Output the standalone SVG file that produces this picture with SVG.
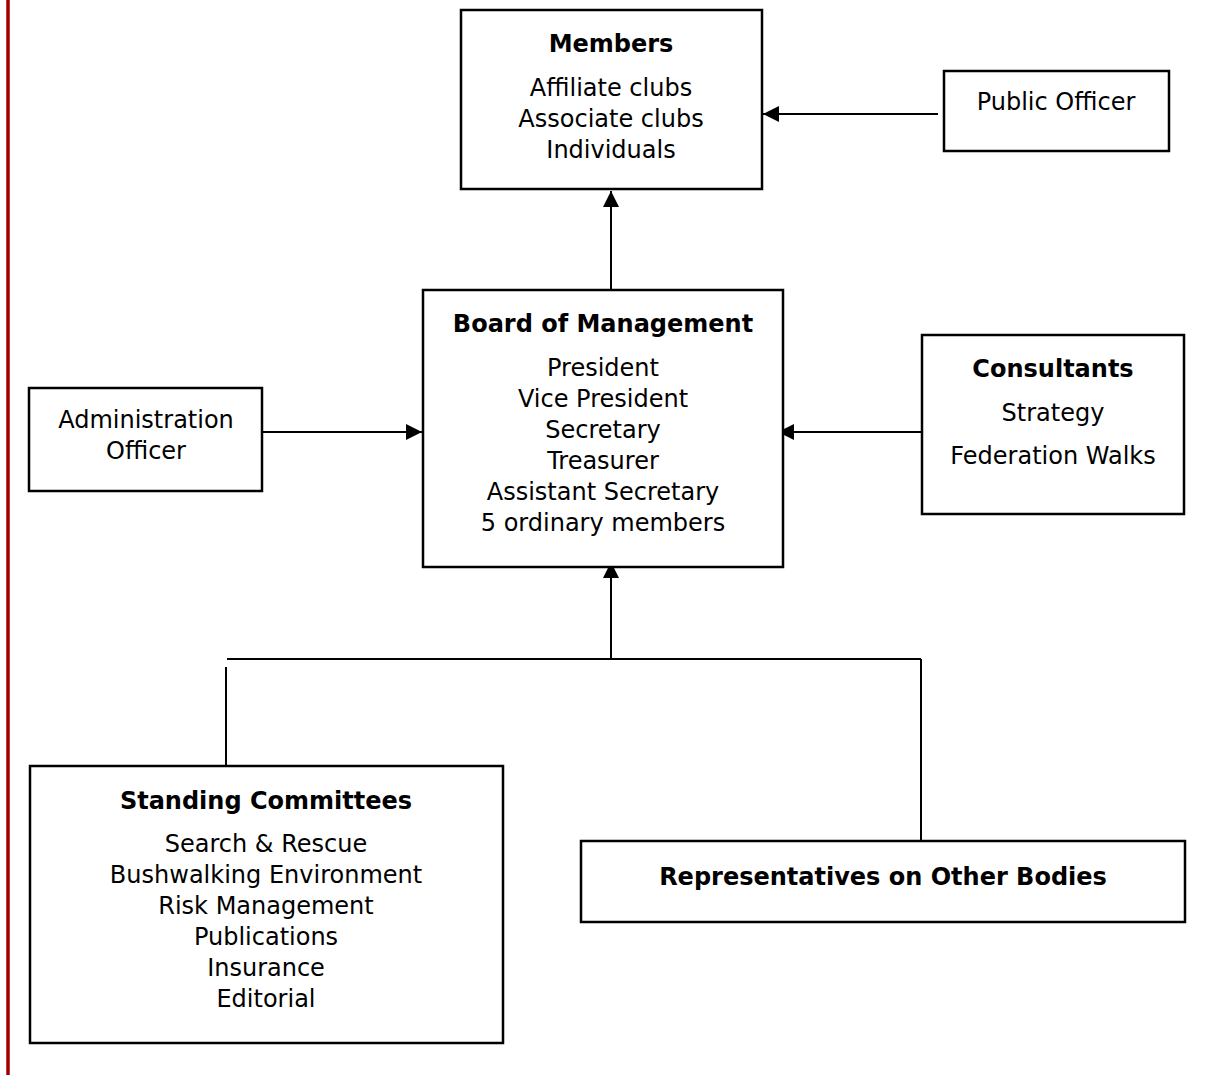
<svg xmlns="http://www.w3.org/2000/svg" width="1212" height="1075" viewBox="0 0 1212 1075">
<style>
.box{fill:#fff;stroke:#000;stroke-width:2.5}
.ln{stroke:#000;stroke-width:2;fill:none}
.t{font-family:"DejaVu Sans","Liberation Sans",sans-serif;font-size:24px;fill:#000;text-anchor:middle}
.h{font-weight:bold;font-size:24px}
</style>
<defs>
<marker id="ah" viewBox="0 0 16 16" refX="16" refY="8" markerWidth="16" markerHeight="16" markerUnits="userSpaceOnUse" orient="auto">
<path d="M0,0 L16,8 L0,16 Z" fill="#000"/>
</marker>
</defs>
<rect width="1212" height="1075" fill="#fff"/>
<line x1="8" y1="0" x2="8" y2="1075" stroke="#a00000" stroke-width="3.5"/>
<g id="connectors">
<line class="ln" x1="938" y1="114" x2="763" y2="114" marker-end="url(#ah)"/>
<line class="ln" x1="611" y1="290" x2="611" y2="191" marker-end="url(#ah)"/>
<line class="ln" x1="263" y1="432" x2="422" y2="432" marker-end="url(#ah)"/>
<line class="ln" x1="922" y1="432" x2="778" y2="432" marker-end="url(#ah)"/>
<line class="ln" x1="611" y1="659" x2="611" y2="562" marker-end="url(#ah)"/>
<line class="ln" x1="227" y1="659" x2="921" y2="659" stroke-width="2.5"/>
<line class="ln" x1="226" y1="667" x2="226" y2="766"/>
<line class="ln" x1="921" y1="659" x2="921" y2="841"/>
</g>
<g id="members">
<rect class="box" x="461" y="10" width="301" height="179"/>
<text class="t h" x="611" y="52">Members</text>
<text class="t" x="611" y="96">Affiliate clubs</text>
<text class="t" x="611" y="127">Associate clubs</text>
<text class="t" x="611" y="158">Individuals</text>
</g>
<g id="public-officer">
<rect class="box" x="944" y="71" width="225" height="80"/>
<text class="t" x="1056" y="110">Public Officer</text>
</g>
<g id="board">
<rect class="box" x="423" y="290" width="360" height="277"/>
<text class="t h" x="603" y="332">Board of Management</text>
<text class="t" x="603" y="376">President</text>
<text class="t" x="603" y="407">Vice President</text>
<text class="t" x="603" y="438">Secretary</text>
<text class="t" x="603" y="469">Treasurer</text>
<text class="t" x="603" y="500">Assistant Secretary</text>
<text class="t" x="603" y="531">5 ordinary members</text>
</g>
<g id="admin-officer">
<rect class="box" x="29" y="388" width="233" height="103"/>
<text class="t" x="146" y="428">Administration</text>
<text class="t" x="146" y="459">Officer</text>
</g>
<g id="consultants">
<rect class="box" x="922" y="335" width="262" height="179"/>
<text class="t h" x="1053" y="377">Consultants</text>
<text class="t" x="1053" y="421">Strategy</text>
<text class="t" x="1053" y="464">Federation Walks</text>
</g>
<g id="standing-committees">
<rect class="box" x="30" y="766" width="473" height="277"/>
<text class="t h" x="266" y="809">Standing Committees</text>
<text class="t" x="266" y="852">Search &amp; Rescue</text>
<text class="t" x="266" y="883">Bushwalking Environment</text>
<text class="t" x="266" y="914">Risk Management</text>
<text class="t" x="266" y="945">Publications</text>
<text class="t" x="266" y="976">Insurance</text>
<text class="t" x="266" y="1007">Editorial</text>
</g>
<g id="representatives">
<rect class="box" x="581" y="841" width="604" height="81"/>
<text class="t h" x="883" y="885">Representatives on Other Bodies</text>
</g>
</svg>
